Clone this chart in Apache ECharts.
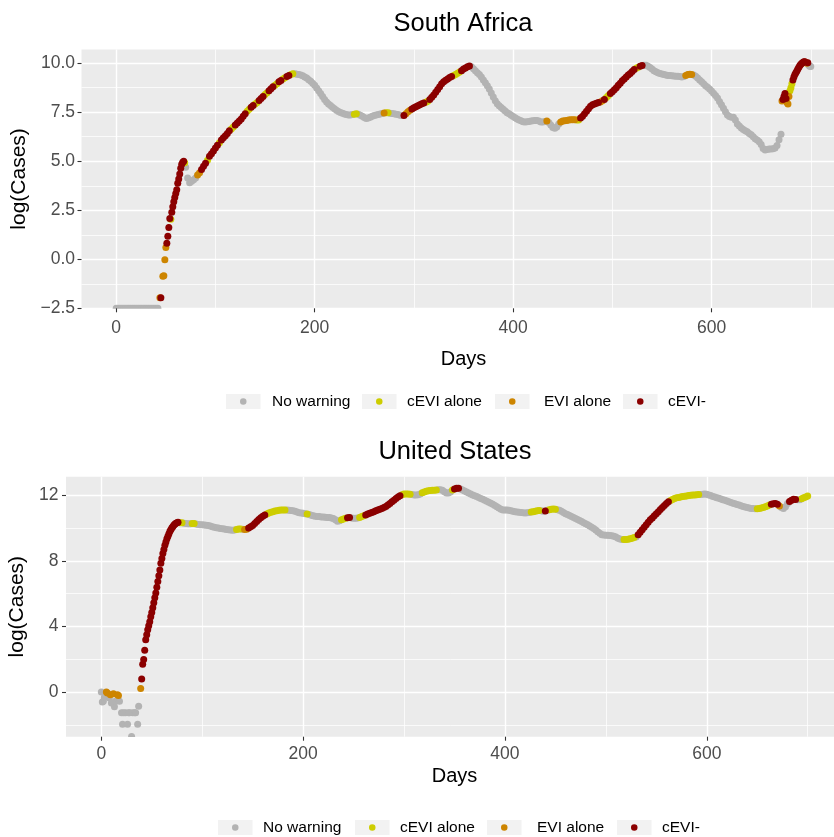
<!DOCTYPE html>
<html><head><meta charset="utf-8">
<script src="https://cdn.jsdelivr.net/npm/echarts@6/dist/echarts.min.js"></script>
<style>html,body{margin:0;padding:0;background:#fff}#c{width:834px;height:837px}</style>
</head><body><div id="c"></div><script>
// ---------- categories / ticks ----------
const warnCats = ['No warning', 'cEVI alone', 'EVI alone', 'cEVI-'];
const warnCodes = ['n', 'y', 'o', 'r'];
const warnColors = ['#b3b3b3', '#cdcd00', '#cd8500', '#8b0000'];
const xTicks = [0, 200, 400, 600];
const xMinor = [100, 300, 500, 700];
const saYTicks = [-2.5, 0, 2.5, 5, 7.5, 10];
const saYMinor = [-1.25, 1.25, 3.75, 6.25, 8.75];
const usYTicks = [0, 4, 8, 12];
const usYMinor = [-2, 2, 6, 10];

// ---------- South Africa ----------
// days 0..42 every 2 days
const saLogFlat = [-2.5,-2.5,-2.5,-2.5,-2.5,-2.5,-2.5,-2.5,-2.5,-2.5,-2.5,-2.5,-2.5,-2.5,-2.5,-2.5,-2.5,-2.5,-2.5,-2.5,-2.5,-2.5];
// early rise, individual days
const saRiseDay = [44,45,47,48,49,50,51,52,53,54,55,56,57,58,59,60,61,62,63,64,65,66,67,68,69];
const saRiseLog = [-1.96,-1.96,-0.86,-0.84,-0.02,0.6,0.82,1.18,1.62,2.08,2.04,2.4,2.68,2.93,3.15,3.35,3.55,3.88,4.1,4.35,4.64,4.85,4.95,5.0,4.92];
// days 70..670 every 2 days
const saLogMain = [
 4.7,4.15,3.9,3.98,4.06,4.15,4.3,4.42,4.58,4.75,
 4.9,5.05,5.25,5.38,5.52,5.68,5.82,5.95,6.08,6.2,
 6.3,6.42,6.55,6.65,6.75,6.85,6.95,7.05,7.15,7.3,
 7.42,7.55,7.65,7.75,7.85,7.92,8.0,8.1,8.2,8.3,
 8.4,8.5,8.6,8.7,8.8,8.88,8.95,9.05,9.12,9.2,
 9.26,9.32,9.38,9.42,9.46,9.46,9.44,9.42,9.4,9.36,
 9.3,9.24,9.16,9.08,8.98,8.88,8.74,8.6,8.45,8.3,
 8.15,8.02,7.92,7.84,7.76,7.68,7.6,7.54,7.49,7.45,
 7.41,7.38,7.36,7.36,7.38,7.4,7.42,7.4,7.35,7.3,
 7.23,7.18,7.2,7.25,7.3,7.33,7.36,7.38,7.41,7.44,
 7.46,7.48,7.47,7.45,7.43,7.42,7.4,7.38,7.35,7.33,
 7.33,7.42,7.52,7.6,7.67,7.73,7.78,7.83,7.88,7.93,
 7.97,8.01,8.06,8.15,8.26,8.38,8.52,8.66,8.8,8.95,
 9.05,9.13,9.2,9.27,9.32,9.38,9.43,9.49,9.55,9.62,
 9.7,9.76,9.82,9.86,9.82,9.72,9.62,9.52,9.42,9.3,
 9.15,9.0,8.85,8.68,8.48,8.28,8.08,7.93,7.83,7.74,
 7.65,7.56,7.48,7.42,7.35,7.28,7.22,7.16,7.1,7.06,
 7.02,7.0,7.02,7.03,7.05,7.06,7.08,7.08,7.05,7.0,
 7.0,7.03,7.05,6.98,6.85,6.72,6.68,6.75,6.9,7.0,
 7.05,7.07,7.08,7.1,7.12,7.12,7.12,7.1,7.1,7.2,
 7.3,7.42,7.55,7.68,7.8,7.88,7.92,7.96,8.0,8.02,
 8.08,8.15,8.25,8.35,8.45,8.55,8.65,8.75,8.88,8.98,
 9.1,9.2,9.3,9.4,9.48,9.58,9.68,9.75,9.8,9.85,
 9.88,9.9,9.9,9.85,9.78,9.7,9.62,9.57,9.52,9.48,
 9.45,9.42,9.4,9.38,9.37,9.36,9.35,9.34,9.33,9.32,
 9.3,9.32,9.38,9.42,9.44,9.42,9.4,9.33,9.25,9.15,
 9.05,8.95,8.85,8.78,8.68,8.58,8.47,8.35,8.22,8.05,
 7.88,7.7,7.52,7.36,7.28,7.25,7.24,7.1,6.9,6.8,
 6.7,6.62,6.55,6.5,6.42,6.35,6.25,6.15,6.08,6.0,
 5.85,5.65,5.58,5.6,5.62,5.62,5.64,5.68,5.8,6.1,
 6.38];
// days 671..700 daily
const saLogEnd = [8.07,8.15,8.3,8.45,8.2,8.0,7.92,8.3,8.6,8.75,8.95,9.15,9.3,9.42,9.52,9.6,9.7,9.8,9.88,9.95,10.0,10.04,10.07,10.08,10.05,10.0,10.02,9.9,9.85,9.83];
// warning category from a given day on
const saWarnRuns = [[0,'n'],[44,'o'],[45,'r'],[47,'o'],[51,'r'],[55,'y'],[56,'r'],[69,'y'],[70,'n'],[81,'o'],[85,'r'],[92,'y'],[94,'r'],[103,'y'],[106,'r'],[115,'y'],[120,'r'],[132,'y'],[136,'r'],[140,'y'],[143,'r'],[149,'y'],[153,'r'],[159,'y'],[163,'r'],[167,'y'],[171,'r'],[175,'y'],[180,'n'],[239,'y'],[244,'n'],[269,'o'],[272,'y'],[276,'n'],[289,'r'],[292,'o'],[298,'r'],[311,'y'],[316,'r'],[339,'y'],[347,'r'],[357,'n'],[433,'o'],[436,'n'],[447,'o'],[463,'y'],[468,'r'],[487,'o'],[491,'r'],[493,'y'],[498,'r'],[523,'y'],[527,'r'],[531,'n'],[574,'o'],[581,'n'],[671,'o'],[672,'r'],[676,'o'],[679,'y'],[682,'r'],[695,'o'],[697,'r'],[698,'n']];

// ---------- United States ----------
const usEarlyDay = [0,1,2,3,5,6,8,9,10,12,13,14,16,17,18,20,21,22,24,26,27,28,30,31,33,34,36,37,39];
const usEarlyLog = [0.02,-0.6,-0.55,-0.3,0.02,-0.05,-0.35,-0.15,-0.65,-0.1,-0.88,-0.55,-0.15,-0.2,-0.55,-1.25,-1.95,-1.25,-1.25,-1.95,-1.25,-1.25,-2.7,-1.25,-1.25,-1.25,-1.95,-0.85,0.22];
const usEarlyWarn = ['n','n','n','n','o','o','n','o','n','o','n','n','o','o','n','n','n','n','n','n','n','n','n','n','n','n','n','n','o'];
// days 40..76 daily
const usLogRise = [0.8,1.7,2.0,2.55,3.2,3.5,3.8,4.05,4.3,4.6,4.85,5.15,5.45,5.75,6.05,6.4,6.75,7.1,7.45,7.85,8.15,8.45,8.7,8.95,9.15,9.35,9.5,9.65,9.8,9.92,10.02,10.1,10.18,10.25,10.3,10.33,10.35];
// days 78..700 every 2 days
const usLogMain = [
 10.33,10.32,10.3,10.28,10.27,10.27,10.28,10.28,10.25,10.22,
 10.2,10.2,10.18,10.17,10.15,10.12,10.08,10.05,10.02,10.0,
 9.98,9.96,9.94,9.92,9.9,9.88,9.87,9.88,9.92,9.95,
 9.95,9.93,9.92,9.93,10.0,10.08,10.15,10.28,10.4,10.52,
 10.63,10.72,10.8,10.86,10.92,10.96,11.0,11.04,11.06,11.08,
 11.1,11.1,11.1,11.1,11.09,11.07,11.05,11.02,10.98,10.94,
 10.92,10.9,10.88,10.86,10.82,10.78,10.75,10.72,10.7,10.7,
 10.68,10.67,10.66,10.65,10.64,10.62,10.58,10.5,10.42,10.45,
 10.5,10.55,10.6,10.63,10.64,10.62,10.6,10.6,10.62,10.65,
 10.7,10.75,10.8,10.85,10.9,10.95,11.0,11.05,11.1,11.15,
 11.2,11.25,11.32,11.4,11.5,11.6,11.7,11.8,11.9,11.97,
 12.03,12.07,12.08,12.08,12.06,12.04,12.02,12.01,12.03,12.08,
 12.15,12.2,12.24,12.27,12.29,12.3,12.31,12.32,12.33,12.34,
 12.3,12.22,12.14,12.13,12.2,12.32,12.38,12.42,12.42,12.38,
 12.32,12.26,12.2,12.14,12.08,12.02,11.97,11.92,11.86,11.8,
 11.75,11.7,11.64,11.58,11.52,11.45,11.38,11.3,11.22,11.15,
 11.1,11.1,11.1,11.08,11.05,11.02,11.0,10.98,10.96,10.95,
 10.93,10.92,10.93,10.95,10.98,11.0,11.02,11.05,11.07,11.05,
 11.02,11.04,11.08,11.12,11.15,11.16,11.15,11.12,11.08,11.02,
 10.95,10.88,10.82,10.76,10.7,10.64,10.58,10.52,10.46,10.4,
 10.33,10.26,10.2,10.12,10.05,9.97,9.88,9.78,9.68,9.6,
 9.58,9.57,9.56,9.55,9.53,9.5,9.45,9.38,9.33,9.3,
 9.3,9.3,9.32,9.35,9.38,9.42,9.45,9.6,9.75,9.9,
 10.05,10.2,10.35,10.5,10.62,10.75,10.88,11.0,11.13,11.25,
 11.38,11.5,11.6,11.68,11.74,11.8,11.84,11.87,11.9,11.92,
 11.94,11.96,11.98,12.0,12.01,12.02,12.03,12.04,12.05,12.06,
 12.07,12.06,12.02,11.98,11.93,11.89,11.85,11.81,11.77,11.73,
 11.69,11.65,11.61,11.56,11.52,11.48,11.44,11.4,11.36,11.32,
 11.28,11.25,11.22,11.2,11.19,11.18,11.18,11.2,11.22,11.26,
 11.3,11.35,11.4,11.45,11.48,11.5,11.45,11.35,11.25,11.2,
 11.3,11.5,11.62,11.7,11.75,11.74,11.72,11.73,11.78,11.85,
 11.9,11.95];
const usWarnRuns = [[40,'r'],[78,'y'],[82,'n'],[90,'y'],[93,'n'],[134,'y'],[140,'n'],[142,'o'],[146,'r'],[164,'y'],[184,'n'],[204,'y'],[206,'n'],[238,'y'],[244,'r'],[248,'n'],[256,'y'],[262,'r'],[298,'y'],[308,'n'],[318,'y'],[333,'n'],[348,'y'],[350,'r'],[356,'n'],[426,'y'],[436,'n'],[440,'r'],[442,'n'],[444,'y'],[452,'n'],[518,'y'],[530,'n'],[532,'r'],[564,'y'],[594,'n'],[650,'y'],[664,'r'],[672,'o'],[674,'n'],[682,'r'],[690,'n'],[694,'y']];

// ---------- build point lists ----------
function codeAt(runs, day) {
  let c = runs[0][1];
  for (const r of runs) { if (day >= r[0]) c = r[1]; else break; }
  return c;
}
function addSeg(pts, codes, start, step, vals, runs) {
  vals.forEach((v, i) => { const d = start + i * step; pts.push([d, v]); codes.push(codeAt(runs, d)); });
}
const saPts = [], saCodes = [];
addSeg(saPts, saCodes, 0, 2, saLogFlat, saWarnRuns);
saRiseDay.forEach((d, i) => { saPts.push([d, saRiseLog[i]]); saCodes.push(codeAt(saWarnRuns, d)); });
addSeg(saPts, saCodes, 70, 2, saLogMain, saWarnRuns);
addSeg(saPts, saCodes, 671, 1, saLogEnd, saWarnRuns);

const usPts = [], usCodes = [];
usEarlyDay.forEach((d, i) => { usPts.push([d, usEarlyLog[i]]); usCodes.push(usEarlyWarn[i]); });
addSeg(usPts, usCodes, 40, 1, usLogRise, usWarnRuns);
addSeg(usPts, usCodes, 78, 2, usLogMain, usWarnRuns);

// ---------- styling / layout ----------
const FONT = '"Liberation Sans", Arial, Helvetica, sans-serif';
const KEY_W = 34.5, KEY_H = 15, DOT = 6.5;
const panels = [
  { title: 'South Africa', tx: 463, ty: 23.5, left: 81.5, top: 49.5, width: 764, height: 258.8,
    ymin: -2.5, ymax: 10.7, yt: saYTicks, ym: saYMinor, dec: 1, xMargin: 10.5, yMargin: 6.5, xGap: 41.5, yGap: 50.5,
    keyLeft: [226, 362, 495, 623], textLeft: [272, 407, 544, 668], legY: 401.5 },
  { title: 'United States', tx: 455, ty: 452, left: 66, top: 476.7, width: 777, height: 260,
    ymin: -2.71, ymax: 13.13, yt: usYTicks, ym: usYMinor, dec: 0, xMargin: 8, yMargin: 7.5, xGap: 29.5, yGap: 34,
    keyLeft: [218, 355, 487, 617], textLeft: [263, 400, 537, 662], legY: 827.5 }
];

const grid = [], xAxis = [], yAxis = [], title = [], legend = [], graphicEls = [];
const hidden = { axisLine: { show: false, onZero: false }, axisLabel: { show: false } };
panels.forEach((p, gi) => {
  grid.push({ left: p.left, top: p.top, width: p.width, height: p.height, show: true,
    backgroundColor: '#ebebeb', borderWidth: 0, containLabel: false, outerBoundsMode: 'none' });
  title.push({ text: p.title, left: p.tx, top: p.ty, textAlign: 'center', textVerticalAlign: 'middle', padding: 0,
    textStyle: { fontFamily: FONT, fontSize: 25.5, fontWeight: 'normal', color: '#000' } });
  // main axes (ticks, labels, names) drawn above points
  xAxis.push({ type: 'value', gridIndex: gi, position: 'bottom', min: -35, max: 735, z: 5,
    axisLine: { show: false, onZero: false },
    axisTick: { show: true, length: 4, customValues: xTicks, lineStyle: { color: '#333', width: 1.1 } },
    axisLabel: { customValues: xTicks, margin: p.xMargin, color: '#4d4d4d', fontSize: 17.5, fontFamily: FONT },
    splitLine: { show: false },
    name: 'Days', nameLocation: 'middle', nameGap: p.xGap,
    nameTextStyle: { fontSize: 20, color: '#000', fontFamily: FONT } });
  // grid lines (below points)
  xAxis.push({ type: 'value', gridIndex: gi, position: 'top', min: -35, max: 735, ...hidden,
    axisTick: { show: false, customValues: xTicks }, splitLine: { show: true, lineStyle: { color: '#fff', width: 1.4 } } });
  xAxis.push({ type: 'value', gridIndex: gi, position: 'top', min: -35, max: 735, ...hidden,
    axisTick: { show: false, customValues: xMinor }, splitLine: { show: true, lineStyle: { color: '#fff', width: 0.75 } } });

  yAxis.push({ type: 'value', gridIndex: gi, position: 'left', min: p.ymin, max: p.ymax, z: 5,
    axisLine: { show: false, onZero: false },
    axisTick: { show: true, length: 4, customValues: p.yt, lineStyle: { color: '#333', width: 1.1 } },
    axisLabel: { customValues: p.yt, margin: p.yMargin, color: '#4d4d4d', fontSize: 17.5, fontFamily: FONT,
      formatter: v => v.toFixed(p.dec).replace('-', '\u2212') },
    splitLine: { show: false },
    name: 'log(Cases)', nameLocation: 'middle', nameRotate: 90, nameGap: p.yGap,
    nameTextStyle: { fontSize: 21, color: '#000', fontFamily: FONT } });
  yAxis.push({ type: 'value', gridIndex: gi, position: 'right', min: p.ymin, max: p.ymax, ...hidden,
    axisTick: { show: false, customValues: p.yt }, splitLine: { show: true, lineStyle: { color: '#fff', width: 1.4 } } });
  yAxis.push({ type: 'value', gridIndex: gi, position: 'right', min: p.ymin, max: p.ymax, ...hidden,
    axisTick: { show: false, customValues: p.ym }, splitLine: { show: true, lineStyle: { color: '#fff', width: 0.75 } } });

  // legend: one item per legend so each key sits where the reference has it
  warnCats.forEach((name, k) => {
    const lx = p.keyLeft[k] + KEY_W / 2 - DOT / 2;
    const spacer = p.textLeft[k] - (lx + DOT + 5);
    legend.push({ data: [name], left: lx, top: p.legY - 8, padding: 0, orient: 'horizontal',
      icon: 'circle', itemWidth: DOT, itemHeight: DOT, selectedMode: false,
      formatter: n => '{s| }' + n,
      textStyle: { fontSize: 15.5, lineHeight: 16, color: '#000', fontFamily: FONT,
        rich: { s: { width: spacer, fontSize: 15.5, lineHeight: 16 } } } });
    graphicEls.push({ type: 'rect', silent: true, z: 0,
      shape: { x: p.keyLeft[k], y: p.legY - KEY_H / 2, width: KEY_W, height: KEY_H }, style: { fill: '#f2f2f2' } });
  });
  // panel clips the points at its lower edge
  graphicEls.push({ type: 'rect', silent: true, z: 3,
    shape: { x: p.left - 16, y: p.top + p.height + 0.4, width: 120, height: 5 }, style: { fill: '#fff' } });
});

function makeSeries(pts, codes, xi, yi) {
  return warnCats.map((name, k) => ({
    name, type: 'scatter', xAxisIndex: xi, yAxisIndex: yi, symbol: 'circle', symbolSize: 7, clip: false,
    itemStyle: { color: warnColors[k], opacity: 1 }, emphasis: { disabled: true },
    data: pts.filter((pt, i) => codes[i] === warnCodes[k])
  }));
}
const series = [...makeSeries(saPts, saCodes, 0, 0), ...makeSeries(usPts, usCodes, 3, 3)];

const chart = echarts.init(document.getElementById('c'), null, { renderer: 'canvas' });
chart.setOption({
  animation: false, backgroundColor: '#fff',
  title, grid, xAxis, yAxis, legend, series,
  graphic: { elements: graphicEls },
  tooltip: { show: false }
});
</script></body></html>
